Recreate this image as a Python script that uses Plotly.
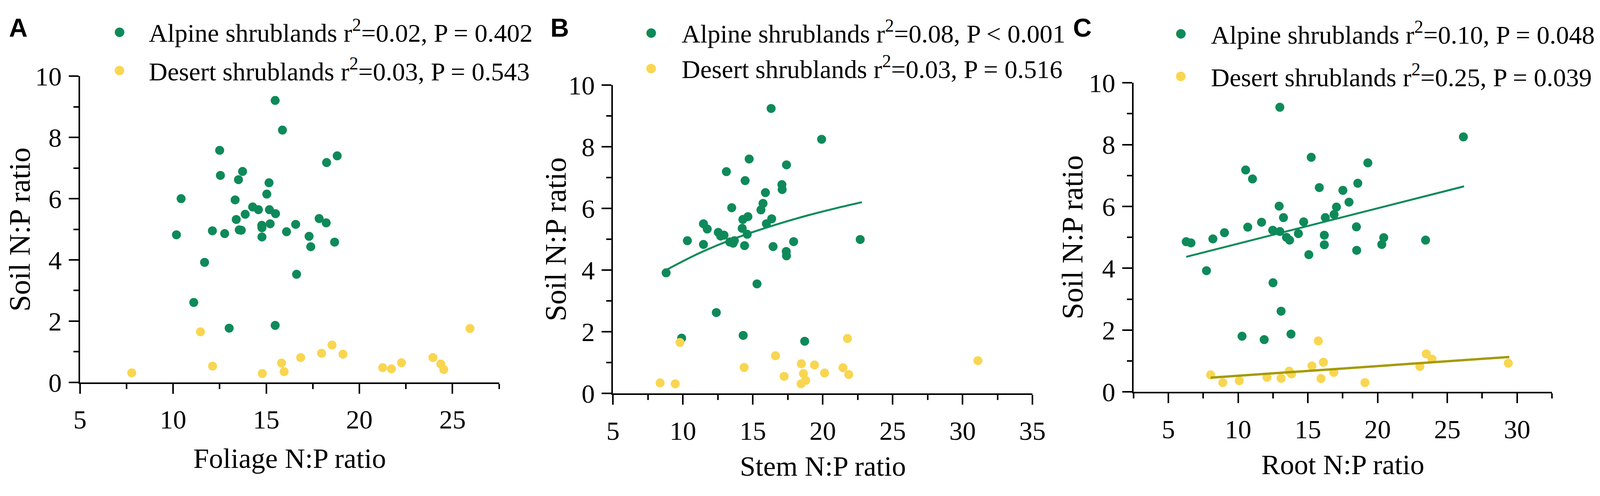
import plotly.graph_objects as go

## Data ------------------------------------------------------------------------

# panel A : foliage
foliage_alp_x = [15.48, 15.87, 12.50, 18.81, 18.24, 12.54, 13.73, 13.51, 15.15, 10.43, 15.03, 13.33, 14.27,
                 14.58, 15.17, 15.50, 13.87, 13.39, 17.84, 18.22, 15.21, 14.76, 14.77, 16.58, 12.11, 13.55,
                 13.66, 12.77, 10.18, 16.09, 14.77, 17.30, 18.67, 17.39, 11.69, 16.63, 11.11, 13.01, 15.48]
foliage_alp_y = [9.21, 8.24, 7.58, 7.40, 7.18, 6.76, 6.89, 6.62, 6.52, 6.00, 6.15, 5.96, 5.73,
                 5.64, 5.64, 5.51, 5.49, 5.32, 5.35, 5.21, 5.18, 5.13, 5.05, 5.16, 4.95, 4.98,
                 4.97, 4.86, 4.82, 4.92, 4.75, 4.77, 4.58, 4.43, 3.92, 3.53, 2.61, 1.77, 1.86]
foliage_des_x = [7.78, 11.47, 12.12, 14.79, 15.82, 15.96, 16.85, 17.97, 18.53, 19.12, 21.25, 21.72, 22.26,
                 23.95, 24.37, 24.53, 25.94]
foliage_des_y = [0.31, 1.65, 0.53, 0.29, 0.63, 0.35, 0.81, 0.95, 1.22, 0.92, 0.48, 0.44, 0.64,
                 0.81, 0.60, 0.42, 1.76]

# panel B : stem
stem_alp_x = [16.31, 19.92, 14.74, 17.41, 13.11, 14.45, 17.08, 17.10, 15.90, 13.49, 15.73, 15.58, 14.65,
              14.29, 16.35, 15.97, 11.47, 11.74, 14.24, 12.53, 12.70, 12.94, 14.60, 10.32, 13.68, 13.35,
              13.59, 11.47, 14.41, 16.45, 17.92, 17.39, 17.41, 22.68, 8.80, 15.30, 12.39, 9.91, 14.31, 18.71]
stem_alp_y = [9.24, 8.24, 7.60, 7.41, 7.19, 6.90, 6.77, 6.61, 6.51, 6.02, 6.16, 5.95, 5.73,
              5.64, 5.66, 5.50, 5.50, 5.33, 5.35, 5.22, 5.10, 5.13, 5.16, 4.95, 4.95, 4.91,
              4.87, 4.83, 4.79, 4.76, 4.92, 4.60, 4.46, 4.99, 3.91, 3.55, 2.62, 1.79, 1.88, 1.69]
stem_des_x = [8.37, 9.45, 9.79, 14.38, 16.62, 17.24, 18.47, 18.62, 18.78, 18.45, 19.41, 20.13, 21.45,
              21.77, 21.86, 31.10]
stem_des_y = [0.34, 0.31, 1.65, 0.84, 1.22, 0.55, 0.96, 0.64, 0.42, 0.31, 0.92, 0.66, 0.83,
              1.78, 0.61, 1.06]
stem_fit_alp_x = [8.8, 11, 13, 15, 17, 19, 21, 22.8]
stem_fit_alp_y = [4.00, 4.51, 4.90, 5.23, 5.52, 5.78, 6.01, 6.20]

# panel C : root
root_alp_x = [12.99, 26.15, 15.24, 19.30, 10.54, 11.03, 18.58, 15.82, 17.51, 17.95, 12.94, 17.05, 13.25,
              16.25, 16.88, 11.68, 14.70, 10.69, 18.48, 12.48, 12.99, 9.02, 14.32, 16.18, 13.47, 13.69,
              8.19, 20.44, 6.28, 6.62, 23.44, 16.18, 20.30, 18.50, 15.07, 7.73, 12.50, 13.08, 13.79,
              10.28, 11.87]
root_alp_y = [9.21, 8.25, 7.59, 7.41, 7.18, 6.89, 6.75, 6.61, 6.52, 6.14, 6.01, 5.98, 5.64,
              5.64, 5.74, 5.49, 5.50, 5.33, 5.34, 5.23, 5.19, 5.15, 5.12, 5.07, 5.00, 4.91,
              4.95, 4.99, 4.86, 4.82, 4.91, 4.76, 4.77, 4.58, 4.44, 3.92, 3.53, 2.61, 1.87,
              1.80, 1.69]
root_des_x = [8.03, 8.90, 10.08, 12.07, 13.08, 13.66, 13.83, 15.29, 15.75, 16.11, 15.94, 16.86, 19.09,
              23.03, 23.49, 23.90, 29.37]
root_des_y = [0.55, 0.30, 0.36, 0.47, 0.44, 0.67, 0.58, 0.84, 1.65, 0.96, 0.43, 0.63, 0.30,
              0.82, 1.23, 1.06, 0.93]
root_fit_alp_x = [6.28, 26.2]
root_fit_alp_y = [4.37, 6.65]
root_fit_des_x = [8.03, 29.44]
root_fit_des_y = [0.46, 1.13]

panel_letters = ["A", "B", "C"]
x_titles = ["Foliage N:P ratio", "Stem N:P ratio", "Root N:P ratio"]
alp_labels = ["Alpine shrublands r<sup>2</sup>=0.02, P = 0.402",
              "Alpine shrublands r<sup>2</sup>=0.08, P &lt; 0.001",
              "Alpine shrublands r<sup>2</sup>=0.10, P = 0.048"]
des_labels = ["Desert shrublands r<sup>2</sup>=0.03, P = 0.543",
              "Desert shrublands r<sup>2</sup>=0.03, P = 0.516",
              "Desert shrublands r<sup>2</sup>=0.25, P = 0.039"]
x_ranges = [[5, 27.5], [5, 35], [2.5, 32.5]]


## Style ---------------------------------------------------------------------

# the browser viewport is 4096 px wide, so the 4550 px wide reference is squeezed into it
VIEW_W, REF_W = 4096, 4550
SX = VIEW_W / REF_W
OFF = 8  # default body margin of the page
W, H = VIEW_W - 2 * OFF, 1271 - 2 * OFF

GREEN = "#0e8a5a"
YELLOW = "#f9d651"
OLIVE = "#a49a05"
SERIF = "Liberation Serif"

# positions measured on the reference, in its pixels
boxes = [(211, 1418, 168, 1003), (1746, 2954, 192, 1033), (3245, 4450, 186, 1029)]
legpos = [(325, 407, 45, 150), (1856, 1941, 47, 144), (3381, 3466, 50, 166)]
letter_x = [34, 1593, 3098]
ytitle_x = [37, 1580, 3069]
xtitle_y = [1211, 1232, 1228]


def px(x):
    return (x * SX - OFF) / W


def py(y):
    return 1 - (y - OFF) / H


fig = go.Figure()

series = [
    (foliage_alp_x, foliage_alp_y, foliage_des_x, foliage_des_y),
    (stem_alp_x, stem_alp_y, stem_des_x, stem_des_y),
    (root_alp_x, root_alp_y, root_des_x, root_des_y),
]

for i, (ax, ay, dx, dy) in enumerate(series):
    xa = "x" if i == 0 else "x%d" % (i + 1)
    ya = "y" if i == 0 else "y%d" % (i + 1)
    fig.add_trace(go.Scatter(x=ax, y=ay, mode="markers", xaxis=xa, yaxis=ya,
                             marker=dict(color=GREEN, size=23, line=dict(width=0)),
                             showlegend=False, cliponaxis=False))
    fig.add_trace(go.Scatter(x=dx, y=dy, mode="markers", xaxis=xa, yaxis=ya,
                             marker=dict(color=YELLOW, size=23, line=dict(width=0)),
                             showlegend=False, cliponaxis=False))

# fit lines
fig.add_trace(go.Scatter(x=stem_fit_alp_x, y=stem_fit_alp_y, mode="lines", xaxis="x2", yaxis="y2",
                         line=dict(color=GREEN, width=5, shape="spline"), showlegend=False))
fig.add_trace(go.Scatter(x=root_fit_alp_x, y=root_fit_alp_y, mode="lines", xaxis="x3", yaxis="y3",
                         line=dict(color=GREEN, width=5), showlegend=False))
fig.add_trace(go.Scatter(x=root_fit_des_x, y=root_fit_des_y, mode="lines", xaxis="x3", yaxis="y3",
                         line=dict(color=OLIVE, width=6), showlegend=False))

layout = dict(width=W, height=H, margin=dict(l=0, r=0, t=0, b=0),
              paper_bgcolor="white", plot_bgcolor="white", showlegend=False)

annotations = []
for i in range(3):
    l, r, t, b = boxes[i]
    suf = "" if i == 0 else str(i + 1)
    layout["xaxis" + suf] = dict(
        domain=[px(l), px(r)], anchor="y" + suf, range=x_ranges[i],
        showline=True, linecolor="black", linewidth=4, showgrid=False, zeroline=False,
        ticks="outside", ticklen=25, tickwidth=4, tickcolor="black",
        tick0=0, dtick=5, ticklabelstandoff=8,
        minor=dict(dtick=2.5, tick0=0, ticks="outside", ticklen=13, tickwidth=4, tickcolor="black"),
        tickfont=dict(family=SERIF, size=68, color="black"))
    layout["yaxis" + suf] = dict(
        domain=[py(b), py(t)], anchor="x" + suf, range=[0, 10],
        showline=True, linecolor="black", linewidth=4, showgrid=False, zeroline=False,
        ticks="outside", ticklen=25, tickwidth=4, tickcolor="black",
        tick0=0, dtick=2, ticklabelstandoff=4,
        minor=dict(dtick=1, tick0=0, ticks="outside", ticklen=13, tickwidth=4, tickcolor="black"),
        tickfont=dict(family=SERIF, size=68, color="black"))

    # panel letter
    annotations.append(dict(text="<b>%s</b>" % panel_letters[i], x=px(letter_x[i]), y=py(36),
                            xref="paper", yref="paper", showarrow=False,
                            xanchor="center", yanchor="middle",
                            font=dict(family="Liberation Sans", size=66, color="black")))
    # axis titles
    annotations.append(dict(text=x_titles[i], x=px((l + r) / 2), y=py(xtitle_y[i]),
                            xref="paper", yref="paper", showarrow=False,
                            xanchor="center", yanchor="middle",
                            font=dict(family=SERIF, size=72, color="black")))
    annotations.append(dict(text="Soil N:P ratio", x=px(ytitle_x[i]), y=py((t + b) / 2),
                            xref="paper", yref="paper", showarrow=False, textangle=-90,
                            xanchor="center", yanchor="middle",
                            font=dict(family=SERIF, size=77, color="black")))
    # legend
    mx, tx, r1, r2 = legpos[i]
    for yy, col, lab in [(r1, GREEN, alp_labels[i]), (r2, YELLOW, des_labels[i])]:
        annotations.append(dict(text="\u25cf", x=px(mx), y=py(yy), xref="paper", yref="paper",
                                showarrow=False, xanchor="center", yanchor="middle",
                                font=dict(family="DejaVu Sans", size=32, color=col)))
        annotations.append(dict(text=lab, x=px(tx), y=py(yy), xref="paper", yref="paper",
                                showarrow=False, xanchor="left", yanchor="middle",
                                font=dict(family=SERIF, size=66, color="black")))

layout["annotations"] = annotations
fig.update_layout(**layout)

fig.write_html("out.html")
